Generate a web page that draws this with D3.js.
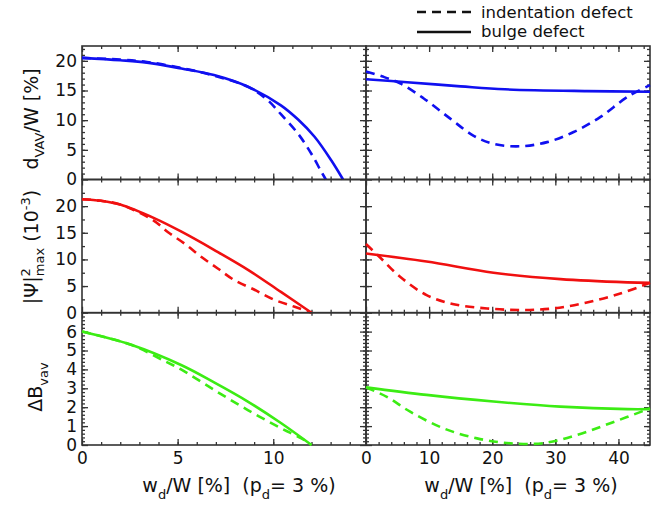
<!DOCTYPE html>
<html><head><meta charset="utf-8">
<script src="https://cdn.jsdelivr.net/npm/d3@7"></script>
<style>
html,body{margin:0;padding:0;background:#fff;}
svg{display:block;font-family:"DejaVu Sans",sans-serif;}
</style></head>
<body><svg id="c" width="672" height="506"></svg>
<script>
// ---------- DATA ----------
// x values in w_d/W [%], (p_d = 3 %)
const dvavIndentLeft = [[0,20.5],[2,20.2],[3.4,19.8],[5.2,18.8],[6.9,17.5],[8.7,15.6],[9.7,13.4],[10.4,11.0],[11.3,7.7],[12.0,4.3],[12.5,1.4],[12.75,0]];
const dvavBulgeLeft  = [[0,20.5],[2,20.1],[3.4,19.7],[5.2,18.7],[6.9,17.6],[8.7,15.6],[10.4,12.5],[11.3,10.1],[12.16,7.2],[13.04,3.2],[13.65,0]];
const dvavIndentRight = [[0,18.2],[2.5,17.4],[5.4,16.2],[9.1,13.7],[13.3,10.3],[17,7.4],[20.2,6.0],[24.4,5.6],[28.7,6.3],[32.9,8.0],[37.1,10.5],[41.4,13.9],[45,15.9]];
const dvavBulgeRight  = [[0,16.9],[6.5,16.4],[15,15.7],[22,15.2],[35,14.9],[45,14.8]];

const psiIndentLeft = [[0,21.3],[1,21.0],[2,20.3],[3.7,17.4],[4.5,15.1],[5.35,13.0],[6.23,10.5],[7.1,8.3],[7.97,6.1],[9.02,4.3],[10.07,2.4],[11.12,1.1],[12.0,0]];
const psiBulgeLeft  = [[0,21.3],[1,21.0],[2,20.3],[3.8,17.7],[5.2,15.2],[6.9,11.8],[8.7,8.0],[10.4,3.9],[12.0,0]];
const psiIndentRight = [[0,12.9],[2.2,10.4],[5.4,6.75],[9.6,3.3],[13.9,1.6],[19.2,0.8],[24.4,0.5],[29.7,0.8],[35,1.9],[40.3,3.6],[45,5.6]];
const psiBulgeRight  = [[0,11.1],[9.6,9.6],[20.2,7.5],[30.8,6.3],[41.4,5.7],[45,5.6]];

const dbIndentLeft = [[0,6.0],[2.57,5.3],[4.4,4.4],[5.18,4.0],[6.93,2.9],[8.67,1.85],[10.42,0.88],[11.47,0.35],[12.0,0]];
const dbBulgeLeft  = [[0,6.0],[2.57,5.3],[5.18,4.23],[6.93,3.3],[8.67,2.3],[10.42,1.15],[12.0,0]];
const dbIndentRight = [[0,3.05],[3.3,2.55],[7,1.76],[12.3,0.88],[17.6,0.35],[22.9,0.09],[28.1,0.1],[33.4,0.53],[38.7,1.15],[45,1.94]];
const dbBulgeRight  = [[0,3.05],[9.6,2.65],[20.2,2.3],[30.8,2.03],[41.4,1.9],[45,1.9]];

const xTicksLeft = [0,5,10];
const xTicksRight = [0,10,20,30,40];
const yTicksTop = [0,5,10,15,20];
const yTicksMid = [0,5,10,15,20];
const yTicksBot = [0,1,2,3,4,5,6];
const legendLabels = ["indentation defect","bulge defect"];

// ---------- LAYOUT ----------
const svg = d3.select("#c");
const tf = '"DejaVu Sans",sans-serif';
const cols = [
  {x0:82, x1:366, domain:[0,14.85], major:xTicksLeft, minorStep:1},
  {x0:366, x1:650, domain:[0,45], major:xTicksRight, minorStep:2}
];
const rows = [
  {y0:46, y1:179.5, domain:[0,22.5], major:yTicksTop, minorStep:1, color:"#1010f0",
   series:[[dvavIndentLeft,dvavBulgeLeft],[dvavIndentRight,dvavBulgeRight]]},
  {y0:179.5, y1:312.7, domain:[0,25], major:yTicksMid, minorStep:2.5, color:"#f01010",
   series:[[psiIndentLeft,psiBulgeLeft],[psiIndentRight,psiBulgeRight]]},
  {y0:312.7, y1:445, domain:[0,7], major:yTicksBot, minorStep:0.2, color:"#3cec14",
   series:[[dbIndentLeft,dbBulgeLeft],[dbIndentRight,dbBulgeRight]]}
];
const frameColor = "#333";
function steps(domain, step){
  const n = Math.floor(domain[1]/step + 1e-6);
  return d3.range(0, n+1).map(i => +(i*step).toFixed(4));
}

rows.forEach((r, ri) => {
  cols.forEach((c, ci) => {
    const x = d3.scaleLinear().domain(c.domain).range([c.x0, c.x1]);
    const y = d3.scaleLinear().domain(r.domain).range([r.y1, r.y0]);
    const g = svg.append("g");
    const xMinor = steps(c.domain, c.minorStep).filter(v => v > 0 && v < c.domain[1]);
    const yMinor = steps(r.domain, r.minorStep).filter(v => v > 0 && v < r.domain[1]);
    const xMaj = c.major.filter(v => v < c.domain[1]);
    const yMaj = r.major;

    const addAxis = (axis, transform, labeled) => {
      const a = g.append("g").attr("transform", transform).call(axis);
      a.select(".domain").remove();
      a.selectAll(".tick line").attr("stroke", frameColor).attr("stroke-width", 1.3);
      a.selectAll("text").attr("fill", "#111").style("font-size", "17px").style("font-family", tf);
      if (!labeled) a.selectAll("text").remove();
      return a;
    };
    addAxis(d3.axisBottom(x).tickValues(xMinor).tickSize(-3).tickFormat(""), `translate(0,${r.y1})`, false);
    addAxis(d3.axisBottom(x).tickValues(xMaj).tickSize(-6).tickPadding(7).tickFormat(d3.format("d")), `translate(0,${r.y1})`, ri === 2);
    addAxis(d3.axisTop(x).tickValues(xMinor).tickSize(-3).tickFormat(""), `translate(0,${r.y0})`, false);
    addAxis(d3.axisTop(x).tickValues(xMaj).tickSize(-6).tickFormat(""), `translate(0,${r.y0})`, false);
    addAxis(d3.axisLeft(y).tickValues(yMinor).tickSize(-3).tickFormat(""), `translate(${c.x0},0)`, false);
    addAxis(d3.axisLeft(y).tickValues(yMaj).tickSize(-6).tickPadding(5).tickFormat(d3.format("d")), `translate(${c.x0},0)`, ci === 0);
    addAxis(d3.axisRight(y).tickValues(yMinor).tickSize(-3).tickFormat(""), `translate(${c.x1},0)`, false);
    addAxis(d3.axisRight(y).tickValues(yMaj).tickSize(-6).tickFormat(""), `translate(${c.x1},0)`, false);

    g.append("rect").attr("x", c.x0).attr("y", r.y0).attr("width", c.x1-c.x0).attr("height", r.y1-r.y0)
      .attr("fill", "none").attr("stroke", frameColor).attr("stroke-width", 1.6);

    const line = d3.line().x(d => x(d[0])).y(d => y(d[1])).curve(d3.curveCatmullRom.alpha(0.5));
    const [ind, bul] = r.series[ci];
    g.append("path").attr("d", line(bul)).attr("fill", "none").attr("stroke", r.color)
      .attr("stroke-width", 2.6);
    g.append("path").attr("d", line(ind)).attr("fill", "none").attr("stroke", r.color)
      .attr("stroke-width", 2.6).attr("stroke-dasharray", "9,6");
  });
});

// ---------- AXIS TITLES ----------
function xTitle(cx){
  const t = svg.append("text").attr("x", cx).attr("y", 492).attr("text-anchor", "middle")
    .style("font-size", "19px").style("font-family", tf).attr("fill", "#111");
  t.append("tspan").text("w");
  t.append("tspan").text("d").attr("dy", 7).style("font-size", "13px");
  t.append("tspan").text("/W [%]\u00a0\u00a0(p").attr("dy", -7);
  t.append("tspan").text("d").attr("dy", 7).style("font-size", "13px");
  t.append("tspan").text("= 3 %)").attr("dy", -7);
}
xTitle(239);
xTitle(521);

function yTitle(bx, cy){
  return svg.append("text").attr("transform", `translate(${bx},${cy}) rotate(-90)`)
    .attr("text-anchor", "middle").style("font-size", "19px").style("font-family", tf).attr("fill", "#111");
}
{
  const t = yTitle(38, 119);
  t.append("tspan").text("d");
  t.append("tspan").text("VAV").attr("dy", 6).style("font-size", "13px");
  t.append("tspan").text("/W [%]").attr("dy", -6);
}
{
  const t = yTitle(38, 247);
  t.append("tspan").text("|\u03a8|");
  t.append("tspan").text("2").attr("dy", -8).style("font-size", "13px");
  t.append("tspan").text("max").attr("dy", 14).attr("dx", -8).style("font-size", "13px");
  t.append("tspan").text("\u00a0(10").attr("dy", -6);
  t.append("tspan").text("-3").attr("dy", -8).style("font-size", "13px");
  t.append("tspan").text(")").attr("dy", 8);
}
{
  const t = yTitle(42, 387);
  t.append("tspan").text("\u0394B");
  t.append("tspan").text("vav").attr("dy", 6).style("font-size", "13px");
}

// ---------- LEGEND ----------
const leg = svg.append("g");
leg.append("line").attr("x1", 417).attr("x2", 477).attr("y1", 12).attr("y2", 12)
  .attr("stroke", "#111").attr("stroke-width", 2.6).attr("stroke-dasharray", "9,6");
leg.append("line").attr("x1", 417).attr("x2", 471).attr("y1", 32).attr("y2", 32)
  .attr("stroke", "#111").attr("stroke-width", 2.6);
leg.selectAll("text.l").data(legendLabels).enter().append("text")
  .attr("x", 481).attr("y", (d,i) => 17.5 + i*19.5)
  .style("font-size", "16.5px").style("font-family", tf).attr("fill", "#111").text(d => d);
</script></body></html>
